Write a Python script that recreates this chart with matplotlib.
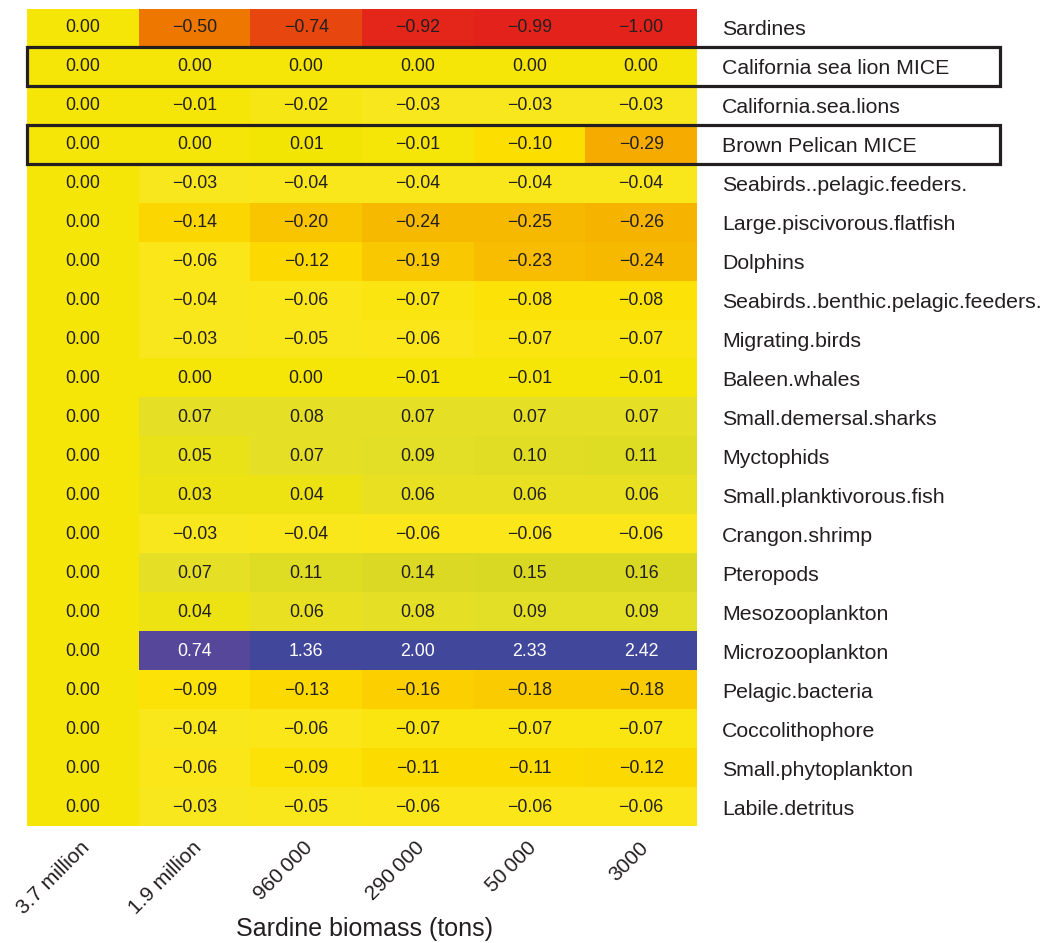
import numpy as np
import matplotlib.pyplot as plt
from matplotlib.colors import LinearSegmentedColormap
from matplotlib.patches import Rectangle
import matplotlib.transforms as mtransforms

plt.rcParams['font.family'] = ['Liberation Sans', 'DejaVu Sans']

# data
groups = ["Sardines", "California sea lion MICE", "California.sea.lions",
          "Brown Pelican MICE", "Seabirds..pelagic.feeders.",
          "Large.piscivorous.flatfish", "Dolphins",
          "Seabirds..benthic.pelagic.feeders.", "Migrating.birds",
          "Baleen.whales", "Small.demersal.sharks", "Myctophids",
          "Small.planktivorous.fish", "Crangon.shrimp", "Pteropods",
          "Mesozooplankton", "Microzooplankton", "Pelagic.bacteria",
          "Coccolithophore", "Small.phytoplankton", "Labile.detritus"]
biomass = ["3.7 million", "1.9 million", "960\u2009000", "290\u2009000",
           "50\u2009000", "3000"]
highlighted = ["California sea lion MICE", "Brown Pelican MICE"]

sardines = [0.00, -0.50, -0.74, -0.92, -0.99, -1.00]
sea_lion_mice = [0.00, 0.00, 0.00, 0.00, 0.00, 0.00]
sea_lions = [0.00, -0.01, -0.02, -0.03, -0.03, -0.03]
pelican_mice = [0.00, 0.00, 0.01, -0.01, -0.10, -0.29]
seabirds_pel = [0.00, -0.03, -0.04, -0.04, -0.04, -0.04]
flatfish = [0.00, -0.14, -0.20, -0.24, -0.25, -0.26]
dolphins = [0.00, -0.06, -0.12, -0.19, -0.23, -0.24]
seabirds_ben = [0.00, -0.04, -0.06, -0.07, -0.08, -0.08]
migrating = [0.00, -0.03, -0.05, -0.06, -0.07, -0.07]
baleen = [0.00, 0.00, 0.00, -0.01, -0.01, -0.01]
sharks = [0.00, 0.07, 0.08, 0.07, 0.07, 0.07]
myctophids = [0.00, 0.05, 0.07, 0.09, 0.10, 0.11]
plankt_fish = [0.00, 0.03, 0.04, 0.06, 0.06, 0.06]
crangon = [0.00, -0.03, -0.04, -0.06, -0.06, -0.06]
pteropods = [0.00, 0.07, 0.11, 0.14, 0.15, 0.16]
mesozoo = [0.00, 0.04, 0.06, 0.08, 0.09, 0.09]
microzoo = [0.00, 0.74, 1.36, 2.00, 2.33, 2.42]
bacteria = [0.00, -0.09, -0.13, -0.16, -0.18, -0.18]
cocco = [0.00, -0.04, -0.06, -0.07, -0.07, -0.07]
phyto = [0.00, -0.06, -0.09, -0.11, -0.11, -0.12]
detritus = [0.00, -0.03, -0.05, -0.06, -0.06, -0.06]

vals = np.array([sardines, sea_lion_mice, sea_lions, pelican_mice, seabirds_pel,
                 flatfish, dolphins, seabirds_ben, migrating, baleen, sharks,
                 myctophids, plankt_fish, crangon, pteropods, mesozoo, microzoo,
                 bacteria, cocco, phyto, detritus])

# colour scale: red (-1) -> yellow (0) -> olive -> blue (large positive)
vmin, vmax = -1.0, 2.42
anchors = [(-1.00, "#e3231b"), (-0.92, "#e4261a"), (-0.74, "#e8480f"),
           (-0.50, "#ef7800"), (-0.29, "#f5ab00"), (-0.24, "#f8bb00"),
           (-0.18, "#fbcd00"), (-0.10, "#fde000"), (-0.06, "#fbe81a"),
           (-0.03, "#f8e71e"), (0.00, "#f4e600"), (0.07, "#e6e027"),
           (0.16, "#d8d822"), (0.40, "#a8a050"), (0.74, "#58479a"),
           (1.30, "#41479a"), (2.42, "#41479a")]
cmap = LinearSegmentedColormap.from_list(
    "sardine", [((v - vmin) / (vmax - vmin), c) for v, c in anchors])

fig = plt.figure(figsize=(10.48, 9.43), dpi=100)
ax = fig.add_axes([27 / 1048, 116.5 / 943, 670 / 1048, 818 / 943])
ax.imshow(vals, cmap=cmap, vmin=vmin, vmax=vmax, aspect='auto',
          interpolation='nearest')

for i in range(vals.shape[0]):
    for j in range(vals.shape[1]):
        v = vals[i, j]
        txt = f"{v:.2f}".replace("-", "\u2212")
        if txt == "\u22120.00":
            txt = "0.00"
        col = "white" if v > 0.5 else "#231f20"
        ax.text(j, i, txt, ha='center', va='center', fontsize=12.8, color=col)

for s in ax.spines.values():
    s.set_visible(False)

ax.yaxis.tick_right()
ax.set_yticks(range(len(groups)))
ax.set_yticklabels(groups, fontsize=15.3, color="#231f20")
ax.tick_params(axis='y', length=0, pad=18)

ax.set_xticks(range(len(biomass)))
ax.set_xticklabels(biomass, fontsize=15, color="#231f20", rotation=45,
                   ha='right', va='center', rotation_mode='anchor')
ax.tick_params(axis='x', length=0, pad=13)
for lab in ax.get_xticklabels():
    lab.set_transform(lab.get_transform() +
                      mtransforms.ScaledTranslation(4 / 100, 0, fig.dpi_scale_trans))

fig.text(365 / 1048, 14 / 943, "Sardine biomass (tons)", fontsize=18,
         color="#231f20", ha='center', va='center')

# boxes around the MICE rows
trans = mtransforms.blended_transform_factory(ax.transAxes, ax.transData)
for name in highlighted:
    i = groups.index(name)
    ax.add_patch(Rectangle((0, i - 0.5), 973 / 670, 1, transform=trans,
                           fill=False, edgecolor="#231f20", lw=2.3,
                           clip_on=False, zorder=5))

fig.savefig("out.png", dpi=100)
